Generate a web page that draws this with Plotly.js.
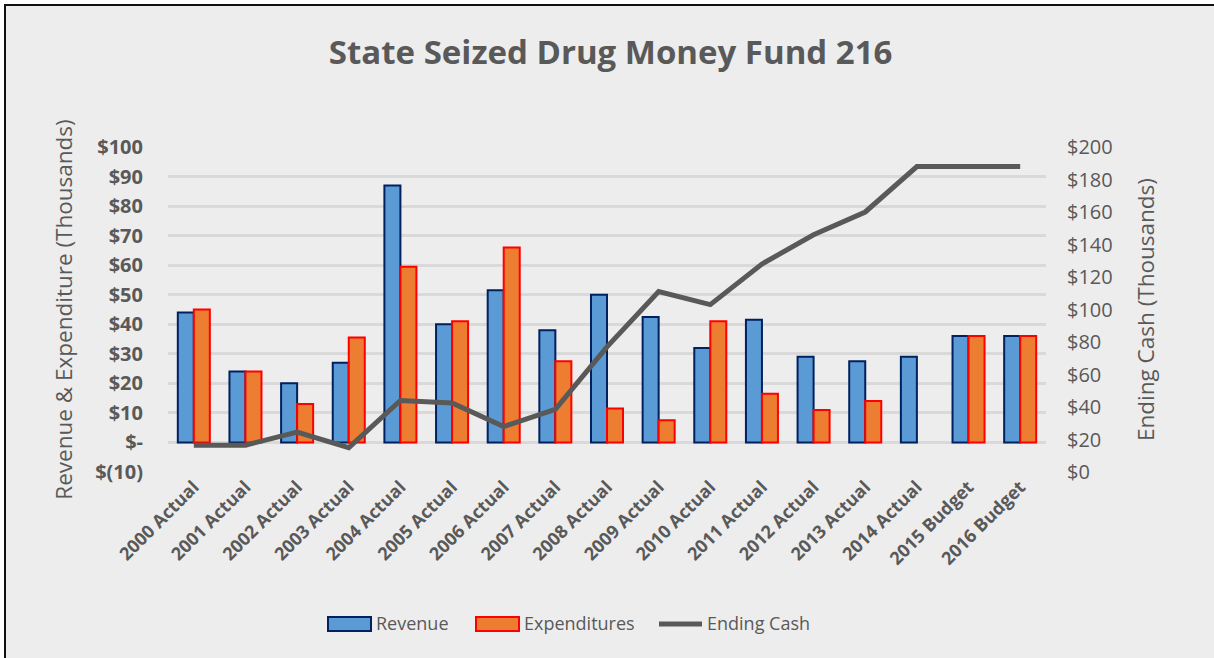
<!DOCTYPE html>
<html>
<head>
<meta charset="utf-8">
<script src="https://cdn.plot.ly/plotly-3.0.1.min.js"></script>
<style>
  html, body { margin:0; padding:0; background:#ffffff; }
  #frame { position:absolute; left:4px; top:4px; width:1210px; height:654px; background:#EDEDED; border-left:2px solid #111; border-top:2px solid #111; }
  #chart { position:absolute; left:0; top:0; width:1214px; height:658px; }
</style>
</head>
<body>
<div id="frame"></div>
<div id="chart"></div>
<script>
const categories = ["2000 Actual","2001 Actual","2002 Actual","2003 Actual","2004 Actual","2005 Actual","2006 Actual","2007 Actual","2008 Actual","2009 Actual","2010 Actual","2011 Actual","2012 Actual","2013 Actual","2014 Actual","2015 Budget","2016 Budget"];
const revenue = [44, 24, 20, 27, 87, 40, 51.5, 38, 50, 42.5, 32, 41.5, 29, 27.5, 29, 36, 36];
const expenditures = [45, 24, 13, 35.5, 59.5, 41, 66, 27.5, 11.5, 7.5, 41, 16.5, 11, 14, null, 36, 36];
const endingCash = [16.5, 16.5, 24.5, 15, 44, 42.5, 28, 38.5, 77, 111, 103, 128, 146, 160, 188, 188, 188];
const leftTickVals = [-10, 0, 10, 20, 30, 40, 50, 60, 70, 80, 90, 100];
const leftTickText = ["$(10)", "$-", "$10", "$20", "$30", "$40", "$50", "$60", "$70", "$80", "$90", "$100"];
const rightTickVals = [0, 20, 40, 60, 80, 100, 120, 140, 160, 180, 200];
const rightTickText = ["$0", "$20", "$40", "$60", "$80", "$100", "$120", "$140", "$160", "$180", "$200"];
const seriesNames = ["Revenue", "Expenditures", "Ending Cash"];

const FONT = "Open Sans, Lato, sans-serif";
const GRAY = "#595959";
const REV_FILL = "#5B9BD5", REV_LINE = "#002060";
const EXP_FILL = "#ED7D31", EXP_LINE = "#FF0000";

const traces = [
  { type:"bar", name:seriesNames[0], x:categories, y:revenue,
    marker:{ color:REV_FILL, line:{ color:REV_LINE, width:2 } } },
  { type:"bar", name:seriesNames[1], x:categories, y:expenditures,
    marker:{ color:EXP_FILL, line:{ color:EXP_LINE, width:2 } } },
  { type:"scatter", mode:"lines", name:seriesNames[2], x:categories, y:endingCash, yaxis:"y2",
    line:{ color:GRAY, width:5 } }
];

// plot area in pixels: x 168..1046, y 147..472
const PX = v => (v - 168) / 878;
const PY = v => (472 - v) / 325;

const legendShapes = [
  { type:"rect", xref:"paper", yref:"paper", x0:PX(328), x1:PX(371), y0:PY(631), y1:PY(617),
    fillcolor:REV_FILL, line:{ color:REV_LINE, width:2 } },
  { type:"rect", xref:"paper", yref:"paper", x0:PX(476), x1:PX(519), y0:PY(631), y1:PY(617),
    fillcolor:EXP_FILL, line:{ color:EXP_LINE, width:2 } },
  { type:"line", xref:"paper", yref:"paper", x0:PX(659), x1:PX(702), y0:PY(624), y1:PY(624),
    line:{ color:GRAY, width:5 } }
];
const legendAnn = [
  { text:seriesNames[0], x:PX(374) },
  { text:seriesNames[1], x:PX(522) },
  { text:seriesNames[2], x:PX(705) }
].map(a => ({ ...a, xref:"paper", yref:"paper", y:PY(623), xanchor:"left", yanchor:"middle",
  showarrow:false, font:{ family:FONT, size:18, color:GRAY } }));

const layout = {
  width:1214, height:658,
  paper_bgcolor:"rgba(0,0,0,0)", plot_bgcolor:"rgba(0,0,0,0)",
  margin:{ l:168, r:168, t:147, b:186 },
  font:{ family:FONT, color:GRAY },
  title:{ text:"<b>State Seized Drug Money Fund 216</b>", font:{ family:FONT, size:33, color:GRAY }, x:0.503, xanchor:"center", y:0.921, yanchor:"middle" },
  barmode:"group", bargap:0.38, bargroupgap:0,
  xaxis:{ type:"category", tickangle:-45, tickfont:{ family:FONT, size:18, color:GRAY, weight:"bold" },
          showgrid:false, zeroline:false, showline:false, ticks:"", fixedrange:true },
  yaxis:{ range:[-10, 100], tickvals:leftTickVals, ticktext:leftTickText,
          tickfont:{ family:FONT, size:20, color:GRAY, weight:"bold" }, ticklabelstandoff:24,
          showgrid:true, gridcolor:"#D9D9D9", gridwidth:3, zeroline:false, showline:false, ticks:"",
          title:{ text:"Revenue & Expenditure (Thousands)", font:{ family:FONT, size:22.5, color:GRAY }, standoff:16 } },
  yaxis2:{ range:[0, 200], overlaying:"y", side:"right", tickvals:rightTickVals, ticktext:rightTickText,
           tickfont:{ family:FONT, size:20, color:GRAY }, ticklabelstandoff:20,
           showgrid:false, zeroline:false, showline:false, ticks:"",
           title:{ text:"Ending Cash (Thousands)", font:{ family:FONT, size:22.5, color:GRAY }, standoff:26 } },
  showlegend:false,
  shapes:legendShapes,
  annotations:legendAnn
};

Plotly.newPlot("chart", traces, layout, { displayModeBar:false, staticPlot:true });
</script>
</body>
</html>
